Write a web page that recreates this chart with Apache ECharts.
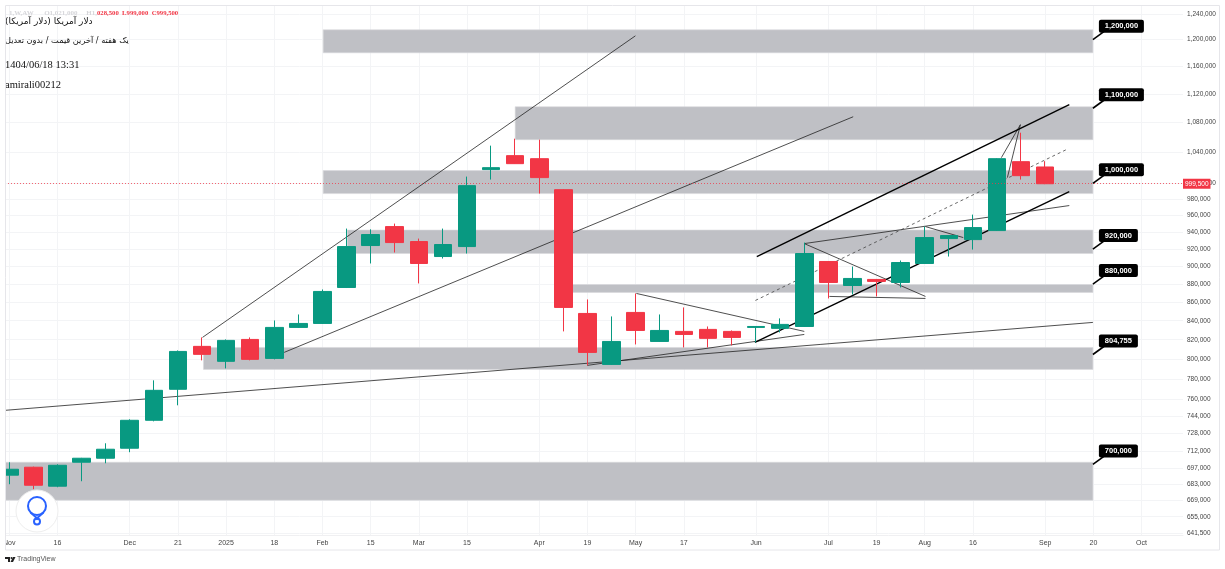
<!DOCTYPE html>
<html>
<head>
<meta charset="utf-8">
<title>USD weekly</title>
<style>
  html, body { margin: 0; padding: 0; background: #fff; }
  #chart { width: 1225px; height: 569px; }
</style>
<script src="https://cdn.jsdelivr.net/npm/echarts@6/dist/echarts.min.js"></script>
</head>
<body>
<div id="chart"></div>
<script>
// weekly candles: [open, close, low, high]
const candles = [
  [690500, 695700, 682600, 701900], [697500, 681700, 678300, 698000], [680900, 699200, 680000, 700100],
  [701900, 705500, 685200, 705800], [705500, 713600, 701000, 719000], [714500, 740300, 710900, 741200],
  [740300, 769000, 739300, 778800], [770000, 807900, 754500, 808900], [813100, 804900, 798800, 822400],
  [797800, 819300, 790700, 820300], [820300, 799800, 798800, 822400], [800800, 832900, 799800, 840300],
  [832900, 837100, 832400, 846700], [837100, 871800, 836600, 874000], [876200, 922900, 875600, 944200],
  [924100, 937100, 903300, 943300], [946600, 927600, 916000, 950200], [928800, 903300, 880700, 932300],
  [911300, 925300, 909000, 944200], [922900, 997100, 914800, 1008600], [1017600, 1020100, 1004800, 1049000],
  [1035800, 1025300, 1025000, 1058300], [1031800, 1007300, 987100, 1057000], [992000, 854300, 828700, 992500],
  [847800, 806900, 793700, 863000], [794700, 818200, 794200, 844600], [848900, 829700, 815100, 869600],
  [818200, 829700, 817800, 846700], [828700, 825500, 812000, 854300], [830800, 821400, 812000, 833900],
  [828700, 822400, 814100, 829700], [832900, 833900, 817200, 834200], [831900, 836100, 827600, 842500],
  [833900, 914800, 833400, 927600], [905600, 881800, 864100, 906000], [878400, 886300, 868500, 899800],
  [885200, 883000, 866300, 885600], [881800, 904400, 876200, 906700], [903300, 933500, 902800, 946600],
  [932300, 935900, 911300, 936300], [931100, 945400, 919400, 961100], [941800, 1031800, 941400, 1032300],
  [1027900, 1009800, 1004800, 1066400], [1021000, 999500, 999000, 1028500]
];

// x axis is the week number, 0 is the first candle
const weekTicks = [0, 2, 5, 7, 9, 11, 13, 15, 17, 19, 22, 24, 26, 28, 31, 34, 36, 38, 40, 43, 45, 47];
const weekLabels = ['Nov', '16', 'Dec', '21', '2025', '18', 'Feb', '15', 'Mar', '15', 'Apr', '19', 'May', '17', 'Jun', 'Jul', '19', 'Aug', '16', 'Sep', '20', 'Oct'];
const weekMin = -0.178;
const weekMax = 48.72;

const priceTicks = [
  1240000, 1200000, 1160000, 1120000, 1080000, 1040000, 1000000, 980000, 960000, 940000, 920000, 900000, 880000,
  860000, 840000, 820000, 800000, 780000, 760000, 744000, 728000, 712000, 697000, 683000, 669000, 655000, 641500
];
const priceMin = 640000;
const priceMax = 1254000;
const lastPrice = 999500;

// grey supply / demand zones
const zoneEnd = 44.98;
const zoneStart = [13.03, 21, 13.03, 14.03, 23, 8.06, weekMin];
const zoneLow = [1180200, 1057000, 987100, 914800, 870700, 789700, 668900];
const zoneHigh = [1215100, 1102100, 1016300, 942400, 879500, 812000, 701900];

// callouts on the right end of the zones
const calloutPrices = [1200000, 1100000, 1000000, 920000, 880000, 804755, 700000];
const calloutLabels = ['1,200,000', '1,100,000', '1,000,000', '920,000', '880,000', '804,755', '700,000'];

// trend lines: [week1, price1, week2, price2]
const thinLines = [
  [8.02, 822400, 25.99, 1205900],
  [11.41, 806900, 35.03, 1088200],
  [-0.178, 749700, 44.98, 838200],
  [33, 926400, 44, 972200],
  [33, 926400, 38.03, 866300],
  [34.04, 866300, 38.03, 864100],
  [38.03, 946600, 39.6, 933500],
  [41.18, 1033100, 41.97, 1077300],
  [41.97, 1077300, 41.43, 1007300],
  [26.03, 869600, 33, 828700],
  [23.99, 793700, 33, 825500]
];
const thickLines = [
  [31.03, 911300, 44, 1104900],
  [30.95, 817200, 44, 989600]
];
const dashedLines = [
  [30.97, 861900, 43.96, 1045000]
];

const GREEN = '#089981';
const RED = '#f23645';
const ZONE = '#bfc0c5';
const GRID = '#f3f4f6';

function lineSeries(segments, style) {
  return segments.map(s => ({
    type: 'line',
    z: 2,
    silent: true,
    showSymbol: false,
    lineStyle: style,
    data: [[s[0], s[1]], [s[2], s[3]]]
  }));
}

const option = {
  animation: false,
  backgroundColor: '#fff',
  textStyle: { fontFamily: 'Liberation Sans' },
  title: [
    {
      left: 9, top: 10, padding: 0,
      text: '{f|1,W,AW      O1,021,000     H1,}{r|028,500  L999,000  C999,500}',
      textStyle: { rich: {
        f: { fontFamily: 'Liberation Serif', fontSize: 7, color: '#d6d6da' },
        r: { fontFamily: 'Liberation Serif', fontSize: 6.7, color: RED }
      } }
    },
    { left: 5, top: 17, padding: 0, text: '\u202Bدلار آمریکا (دلار آمریکا)\u202C', textStyle: { fontFamily: 'DejaVu Sans', fontSize: 9, fontWeight: 'normal', color: '#111' } },
    { left: 5, top: 37, padding: 0, text: '\u202Bیک هفته / آخرین قیمت / بدون تعدیل\u202C', textStyle: { fontFamily: 'DejaVu Sans', fontSize: 8.2, fontWeight: 'normal', color: '#111' } },
    { left: 5, top: 60, padding: 0, text: '1404/06/18 13:31', textStyle: { fontFamily: 'Liberation Serif', fontSize: 10.5, fontWeight: 'normal', color: '#111' } },
    { left: 5, top: 80, padding: 0, text: 'amirali00212', textStyle: { fontFamily: 'Liberation Serif', fontSize: 10.5, fontWeight: 'normal', color: '#111' } },
    { left: 17, top: 556, padding: 0, text: 'TradingView', textStyle: { fontFamily: 'Liberation Sans', fontSize: 7, fontWeight: 'normal', color: '#555' } }
  ],
  grid: { left: 5, right: 42, top: 5, bottom: 34 },
  xAxis: {
    type: 'value',
    min: weekMin,
    max: weekMax,
    axisLine: { show: true, onZero: false, lineStyle: { color: '#f0f0f2', width: 1 } },
    axisTick: { show: false, customValues: weekTicks },
    splitLine: { show: true, lineStyle: { color: GRID, width: 1 } },
    axisLabel: {
      customValues: weekTicks,
      fontSize: 7,
      color: '#444',
      margin: 5,
      showMinLabel: true,
      showMaxLabel: true,
      formatter: v => weekLabels[weekTicks.indexOf(Math.round(v))]
    }
  },
  yAxis: {
    type: 'log',
    logBase: 10,
    min: priceMin,
    max: priceMax,
    position: 'right',
    axisLine: { show: false },
    axisTick: { show: false, customValues: priceTicks },
    splitLine: { show: true, lineStyle: { color: GRID, width: 1 } },
    axisLabel: {
      customValues: priceTicks,
      fontSize: 6.5,
      color: '#444',
      margin: 4,
      padding: [5, 0, 0, 0],
      showMinLabel: true,
      showMaxLabel: true,
      formatter: v => Math.round(v).toLocaleString('en-US')
    }
  },
  graphic: [
    // the first candle runs past the left edge of the plot
    { type: 'rect', silent: true, z: 99, shape: { x: 0, y: 0, width: 5, height: 569 }, style: { fill: '#fff' } },
    { type: 'rect', silent: true, z: 100, shape: { x: 5.5, y: 5.5, width: 1214, height: 544.5 }, style: { fill: 'none', stroke: '#e6e6ea', lineWidth: 1 } },
    { type: 'circle', silent: true, z: 100, shape: { cx: 37, cy: 511, r: 21 }, style: { fill: '#fff', stroke: '#eeeeee', lineWidth: 1 } },
    { type: 'circle', silent: true, z: 101, shape: { cx: 37, cy: 506, r: 9 }, style: { fill: 'none', stroke: '#2962ff', lineWidth: 2 } },
    { type: 'polyline', silent: true, z: 101, shape: { points: [[30.5, 512.5], [38.5, 519.5]] }, style: { fill: 'none', stroke: '#2962ff', lineWidth: 2 } },
    { type: 'polyline', silent: true, z: 101, shape: { points: [[43.5, 512.5], [35.5, 519.5]] }, style: { fill: 'none', stroke: '#2962ff', lineWidth: 2 } },
    { type: 'circle', silent: true, z: 101, shape: { cx: 37, cy: 521.5, r: 3 }, style: { fill: 'none', stroke: '#2962ff', lineWidth: 2 } },
    { type: 'polygon', silent: true, z: 101, shape: { points: [[5, 557], [10, 557], [10, 562], [8, 562], [8, 559], [5, 559]] }, style: { fill: '#222' } },
    { type: 'circle', silent: true, z: 101, shape: { cx: 11.5, cy: 558, r: 1 }, style: { fill: '#222' } },
    { type: 'polygon', silent: true, z: 101, shape: { points: [[10.5, 562], [13, 557], [15.5, 557], [13, 562]] }, style: { fill: '#222' } }
  ],
  series: [
    {
      name: 'zones',
      type: 'custom',
      z: 1,
      silent: true,
      data: zoneStart.map((s, i) => [s, zoneEnd, zoneLow[i], zoneHigh[i]]),
      encode: { x: [0, 1], y: [2, 3] },
      renderItem: function (params, api) {
        const a = api.coord([api.value(0), api.value(3)]);
        const b = api.coord([api.value(1), api.value(2)]);
        return { type: 'rect', shape: { x: a[0], y: a[1], width: b[0] - a[0], height: b[1] - a[1] }, style: { fill: ZONE, stroke: '#d8d9dc', lineWidth: 0.6 } };
      }
    },
    ...lineSeries(thinLines, { color: '#222', width: 0.8 }),
    ...lineSeries(thickLines, { color: '#000', width: 1.4 }),
    ...lineSeries(dashedLines, { color: '#444', width: 0.8, type: [3, 3] }),
    {
      name: 'USD',
      type: 'candlestick',
      z: 3,
      barWidth: 18,
      itemStyle: { color: GREEN, color0: RED, borderColor: GREEN, borderColor0: RED, borderWidth: 1 },
      data: candles.map((c, i) => [i, c[0], c[1], c[2], c[3]]),
      encode: { x: 0, y: [1, 2, 3, 4] },
      markLine: {
        silent: true,
        symbol: 'none',
        lineStyle: { color: 'rgba(242,54,69,0.75)', width: 1, type: [1, 2] },
        label: {
          position: 'end',
          distance: 0,
          formatter: lastPrice.toLocaleString('en-US'),
          backgroundColor: RED,
          color: '#fff',
          fontSize: 6.5,
          padding: [2, 2, 1, 2]
        },
        data: [{ yAxis: lastPrice }]
      }
    },
    {
      name: 'callouts',
      type: 'custom',
      z: 4,
      silent: true,
      data: calloutPrices.map((p, i) => [zoneEnd, p, calloutLabels[i]]),
      encode: { x: 0, y: 1 },
      clip: false,
      renderItem: function (params, api) {
        const p = api.coord([api.value(0), api.value(1)]);
        const label = calloutLabels[params.dataIndex];
        const w = label.length > 7 ? 45 : 39;
        return {
          type: 'group',
          children: [
            { type: 'line', shape: { x1: p[0], y1: p[1], x2: p[0] + 11, y2: p[1] - 8 }, style: { stroke: '#000', lineWidth: 1.6 } },
            { type: 'rect', shape: { x: p[0] + 6, y: p[1] - 20, width: w, height: 13, r: 2 }, style: { fill: '#000' } },
            { type: 'text', style: { x: p[0] + 6 + w / 2, y: p[1] - 13.5, text: label, fill: '#fff', align: 'center', verticalAlign: 'middle', font: 'bold 7.5px "Liberation Sans"' } }
          ]
        };
      }
    }
  ]
};

const chart = echarts.init(document.getElementById('chart'), null, { renderer: 'canvas' });
chart.setOption(option);
</script>
</body>
</html>
